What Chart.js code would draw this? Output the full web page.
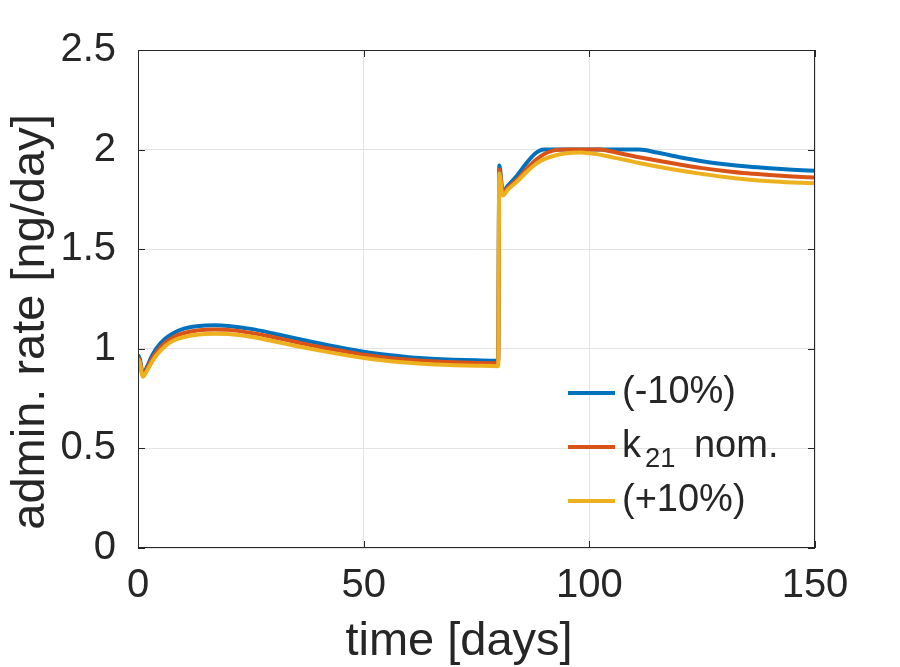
<!DOCTYPE html>
<html>
<head>
<meta charset="utf-8">
<script src="https://cdn.jsdelivr.net/npm/chart.js@4/dist/chart.umd.min.js"></script>
<style>
  html, body { margin: 0; padding: 0; background: #ffffff; }
  #wrap { width: 900px; height: 667px; position: relative; }
</style>
</head>
<body>
<div id="wrap"><canvas id="c" width="900" height="667"></canvas></div>
<script>
// ---- data ----
const times = [0, 0.4, 1.1, 2, 3, 4, 6, 8, 10, 13,
  17, 20, 25, 30, 35, 40, 45, 50, 55, 60,
  65, 70, 75, 79.8, 80.05, 80.8, 82, 84, 86, 88,
  89, 90, 92, 95, 98, 100, 102, 105, 108, 111,
  115, 120, 125, 130, 135, 140, 145, 150];
const minus10 = [0.97, 0.95, 0.87, 0.91, 0.96, 1.0, 1.05, 1.08, 1.10, 1.113,
  1.118, 1.115, 1.10, 1.077, 1.052, 1.028, 1.005, 0.985, 0.97, 0.958,
  0.95, 0.945, 0.942, 0.94, 1.92, 1.79, 1.82, 1.87, 1.93, 1.98,
  1.995, 2.0, 2.0, 2.0, 2.0, 2.0, 2.0, 2.0, 2.0, 2.0,
  1.985, 1.962, 1.942, 1.927, 1.915, 1.906, 1.899, 1.894];
const nominal = [0.96, 0.94, 0.865, 0.90, 0.945, 0.98, 1.03, 1.06, 1.078, 1.092,
  1.097, 1.095, 1.08, 1.058, 1.034, 1.01, 0.99, 0.97, 0.955, 0.945,
  0.937, 0.932, 0.929, 0.928, 1.90, 1.785, 1.81, 1.85, 1.90, 1.945,
  1.962, 1.978, 1.995, 2.0, 2.0, 2.0, 2.0, 1.99, 1.975, 1.962,
  1.945, 1.925, 1.907, 1.893, 1.881, 1.872, 1.865, 1.86];
const plus10 = [0.95, 0.93, 0.86, 0.89, 0.93, 0.965, 1.013, 1.043, 1.058, 1.071,
  1.076, 1.074, 1.06, 1.038, 1.014, 0.992, 0.972, 0.954, 0.94, 0.93,
  0.922, 0.918, 0.915, 0.913, 1.88, 1.77, 1.80, 1.84, 1.885, 1.925,
  1.94, 1.952, 1.968, 1.982, 1.985, 1.982, 1.976, 1.962, 1.948, 1.933,
  1.915, 1.895, 1.878, 1.862, 1.85, 1.841, 1.835, 1.831];
const seriesLabels = ["(-10%)", "k_{21} nom.", "(+10%)"];
const seriesColors = ["#0072BD", "#D95319", "#EDB120"];
const xTicks = [0, 50, 100, 150];
const yTicks = [0, 0.5, 1, 1.5, 2, 2.5];
const xTickLabels = ["0", "50", "100", "150"];
const yTickLabels = ["0", "0.5", "1", "1.5", "2", "2.5"];
const xTitle = "time [days]";
const yTitle = "admin. rate [ng/day]";

// ---- chart ----
const FONT = "'Liberation Sans', Arial, Helvetica, sans-serif";
const INK = "#262626";
const toPts = (vals) => vals.map((v, i) => ({ x: times[i], y: v }));
const allSeries = [minus10, nominal, plus10];

const datasets = allSeries.map((vals, i) => ({
  label: seriesLabels[i],
  data: toPts(vals),
  borderColor: seriesColors[i],
  backgroundColor: seriesColors[i],
  borderWidth: 4,
  pointRadius: 0,
  fill: false,
  cubicInterpolationMode: 'monotone',
  order: allSeries.length - i
}));

function drawSubText(ctx, text, x, y, size) {
  const parts = [];
  const re = /_\{([^}]*)\}/g;
  let last = 0, m;
  while ((m = re.exec(text)) !== null) {
    if (m.index > last) parts.push({ t: text.slice(last, m.index), sub: false });
    parts.push({ t: m[1], sub: true });
    last = re.lastIndex;
  }
  if (last < text.length) parts.push({ t: text.slice(last), sub: false });
  let cx = x;
  for (const p of parts) {
    const s = p.sub ? size * 0.72 : size;
    ctx.font = s + "px " + FONT;
    ctx.fillText(p.t, cx + (p.sub ? 4 : 0), y + (p.sub ? size * 0.34 : 0));
    cx += ctx.measureText(p.t).width + (p.sub ? 12 : 0);
  }
}

const framePlugin = {
  id: 'frame',
  afterDraw(chart) {
    const { ctx, chartArea: a, scales } = chart;
    ctx.save();
    ctx.strokeStyle = INK;
    ctx.lineWidth = 1;
    ctx.strokeRect(a.left + 0.5, a.top + 0.5, a.right - a.left - 1, a.bottom - a.top - 1);
    const tl = 7;
    ctx.beginPath();
    xTicks.forEach(v => {
      const px = Math.round(scales.x.getPixelForValue(v)) + 0.5;
      ctx.moveTo(px, a.bottom); ctx.lineTo(px, a.bottom - tl);
      ctx.moveTo(px, a.top); ctx.lineTo(px, a.top + tl);
    });
    yTicks.forEach(v => {
      const py = Math.round(scales.y.getPixelForValue(v)) + 0.5;
      ctx.moveTo(a.left, py); ctx.lineTo(a.left + tl, py);
      ctx.moveTo(a.right, py); ctx.lineTo(a.right - tl, py);
    });
    ctx.stroke();

    // axis titles
    ctx.fillStyle = INK;
    ctx.font = "47px " + FONT;
    ctx.textAlign = 'center';
    ctx.textBaseline = 'alphabetic';
    ctx.fillText(xTitle, 459, 655);
    ctx.save();
    ctx.translate(44, 322);
    ctx.rotate(-Math.PI / 2);
    ctx.fillText(yTitle, 0, 0);
    ctx.restore();

    // legend (inside, lower right, no box)
    ctx.textAlign = 'left';
    ctx.textBaseline = 'middle';
    const lx0 = 568, lx1 = 615, tx = 622;
    const rowY = [393, 447, 501];
    chart.data.datasets.forEach((ds, i) => {
      const y = rowY[i];
      ctx.strokeStyle = ds.borderColor;
      ctx.lineWidth = 4;
      ctx.beginPath();
      ctx.moveTo(lx0, y); ctx.lineTo(lx1, y);
      ctx.stroke();
      ctx.fillStyle = INK;
      drawSubText(ctx, ds.label, tx, y, 38);
    });
    ctx.restore();
  }
};

new Chart(document.getElementById('c'), {
  type: 'line',
  data: { datasets },
  options: {
    responsive: false,
    animation: false,
    devicePixelRatio: 1,
    layout: { padding: { top: 50, right: 85, left: 0, bottom: 0 } },
    plugins: { legend: { display: false }, tooltip: { enabled: false } },
    scales: {
      x: {
        type: 'linear',
        min: 0, max: 150,
        afterBuildTicks: (s) => { s.ticks = xTicks.map(v => ({ value: v })); },
        afterFit: (s) => { s.height = 119; },
        ticks: {
          color: INK, font: { size: 40, family: FONT }, padding: 14, maxRotation: 0,
          callback: (v) => xTickLabels[xTicks.indexOf(v)]
        },
        grid: { color: '#e3e3e3', drawTicks: false, lineWidth: 1 },
        border: { display: false }
      },
      y: {
        type: 'linear',
        min: 0, max: 2.5,
        afterBuildTicks: (s) => { s.ticks = yTicks.map(v => ({ value: v })); },
        afterFit: (s) => { s.width = 138; },
        ticks: {
          color: INK, font: { size: 40, family: FONT }, padding: 22,
          callback: (v) => yTickLabels[yTicks.indexOf(v)]
        },
        grid: { color: '#e3e3e3', drawTicks: false, lineWidth: 1 },
        border: { display: false }
      }
    }
  },
  plugins: [framePlugin]
});
</script>
</body>
</html>
